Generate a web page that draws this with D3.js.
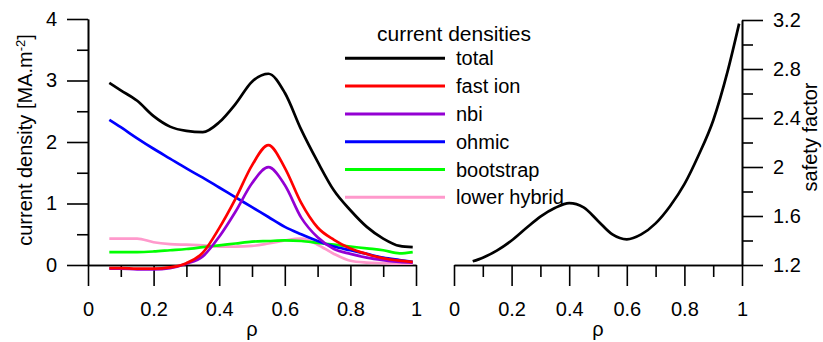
<!DOCTYPE html>
<html>
<head>
<meta charset="utf-8">
<script src="https://cdn.jsdelivr.net/npm/d3@7"></script>
<style>
  body { margin: 0; background: #fff; }
  svg { display: block; font-family: "Liberation Sans", Arial, sans-serif; }
  .axis path, .axis line { stroke: #000; stroke-width: 1.6px; }
  .axis text { font-size: 20px; fill: #000; }
</style>
</head>
<body>
<div id="chart"></div>
<script>
// radial grid shared by the left-panel profiles
const rho = [0.065, 0.1, 0.15, 0.2, 0.25, 0.3, 0.35, 0.4, 0.45, 0.5, 0.55, 0.6, 0.65, 0.7, 0.75, 0.8, 0.85, 0.9, 0.95, 0.99];

const total      = [2.96, 2.84, 2.67, 2.42, 2.25, 2.18, 2.16, 2.32, 2.62, 2.98, 3.11, 2.80, 2.20, 1.68, 1.21, 0.89, 0.62, 0.43, 0.31, 0.29];
const fastIon    = [-0.05, -0.05, -0.06, -0.06, -0.04, 0.03, 0.20, 0.60, 1.08, 1.62, 1.95, 1.58, 1.01, 0.61, 0.41, 0.27, 0.18, 0.11, 0.07, 0.05];
const nbi        = [-0.06, -0.06, -0.07, -0.07, -0.05, 0.02, 0.14, 0.46, 0.87, 1.33, 1.59, 1.30, 0.77, 0.45, 0.26, 0.18, 0.12, 0.08, 0.05, 0.04];
const ohmic      = [2.36, 2.24, 2.06, 1.89, 1.73, 1.57, 1.42, 1.26, 1.10, 0.94, 0.78, 0.62, 0.50, 0.39, 0.30, 0.24, 0.18, 0.12, 0.08, 0.05];
const bootstrap  = [0.21, 0.21, 0.21, 0.22, 0.24, 0.26, 0.29, 0.32, 0.35, 0.38, 0.39, 0.40, 0.39, 0.36, 0.33, 0.30, 0.27, 0.24, 0.19, 0.21];
const lowerHybrid = [0.43, 0.43, 0.43, 0.37, 0.34, 0.33, 0.32, 0.30, 0.30, 0.31, 0.35, 0.40, 0.43, 0.33, 0.18, 0.07, 0.04, 0.03, 0.02, 0.02];

const safetyFactor = [1.23, 1.26, 1.32, 1.40, 1.50, 1.595, 1.665, 1.705, 1.67, 1.56, 1.45, 1.41, 1.45, 1.54, 1.68, 1.86, 2.10, 2.38, 2.78, 3.17];

const seriesNames = ['total', 'fast ion', 'nbi', 'ohmic', 'bootstrap', 'lower hybrid'];
const seriesValues = [total, fastIon, nbi, ohmic, bootstrap, lowerHybrid];
const seriesColors = ['#000000', '#ff0000', '#9400d3', '#0000ff', '#00ff00', '#ff99cc'];

const xTicks = [0, 0.2, 0.4, 0.6, 0.8, 1];
const xMinorTicks = [0.1, 0.3, 0.5, 0.7, 0.9];
const jTicks = [0, 1, 2, 3, 4];
const jMinorTicks = [0.5, 1.5, 2.5, 3.5];
const qTicks = [1.2, 1.6, 2, 2.4, 2.8, 3.2];
const qMinorTicks = [1.4, 1.8, 2.2, 2.6, 3.0];

const svg = d3.select('#chart').append('svg')
    .attr('width', 823)
    .attr('height', 342);

// Left panel scales
const xL = d3.scaleLinear().domain([0, 1]).range([88, 416]);
const yL = d3.scaleLinear().domain([0, 4]).range([265, 19]);
// Right panel scales
const xR = d3.scaleLinear().domain([0, 1]).range([454, 742]);
const yR = d3.scaleLinear().domain([1.2, 3.2]).range([265, 20]);

const fmt = d => d3.format('~g')(d);

function drawAxis(g, axis) {
    g.attr('class', 'axis').call(axis);
    g.select('.domain').attr('fill', 'none');
    return g;
}

// left x axis
drawAxis(svg.append('g').attr('transform', `translate(0,${yL(0)})`),
    d3.axisBottom(xL).tickValues(xMinorTicks).tickSize(12).tickSizeOuter(0).tickFormat(''));
drawAxis(svg.append('g').attr('transform', `translate(0,${yL(0)})`),
    d3.axisBottom(xL).tickValues(xTicks).tickSize(21).tickSizeOuter(0).tickPadding(16).tickFormat(fmt));

// left y axis
drawAxis(svg.append('g').attr('transform', `translate(${xL(0)},0)`),
    d3.axisLeft(yL).tickValues(jMinorTicks).tickSize(11).tickSizeOuter(0).tickFormat(''));
drawAxis(svg.append('g').attr('transform', `translate(${xL(0)},0)`),
    d3.axisLeft(yL).tickValues(jTicks).tickSize(21).tickSizeOuter(0).tickPadding(10).tickFormat(fmt));

// right x axis
drawAxis(svg.append('g').attr('transform', `translate(0,${yR(1.2)})`),
    d3.axisBottom(xR).tickValues(xMinorTicks).tickSize(12).tickSizeOuter(0).tickFormat(''));
drawAxis(svg.append('g').attr('transform', `translate(0,${yR(1.2)})`),
    d3.axisBottom(xR).tickValues(xTicks).tickSize(21).tickSizeOuter(0).tickPadding(16).tickFormat(fmt));

// right y axis (safety factor)
drawAxis(svg.append('g').attr('transform', `translate(${xR(1)},0)`),
    d3.axisRight(yR).tickValues(qMinorTicks).tickSize(11).tickSizeOuter(0).tickFormat(''));
drawAxis(svg.append('g').attr('transform', `translate(${xR(1)},0)`),
    d3.axisRight(yR).tickValues(qTicks).tickSize(21).tickSizeOuter(0).tickPadding(10).tickFormat(fmt));

// axis titles
const yTitle = svg.append('text')
    .attr('transform', 'translate(32,140) rotate(-90)')
    .attr('text-anchor', 'middle')
    .style('font-size', '20px');
yTitle.append('tspan').text('current density [MA.m');
yTitle.append('tspan').attr('dy', -7).style('font-size', '13px').text('-2');
yTitle.append('tspan').attr('dy', 7).text(']');

svg.append('text')
    .attr('transform', 'translate(817,137) rotate(-90)')
    .attr('text-anchor', 'middle')
    .style('font-size', '20px')
    .text('safety factor');

svg.append('text')
    .attr('x', xL(0.5)).attr('y', 336)
    .attr('text-anchor', 'middle')
    .style('font-size', '20px')
    .text('ρ');
svg.append('text')
    .attr('x', xR(0.5)).attr('y', 336)
    .attr('text-anchor', 'middle')
    .style('font-size', '20px')
    .text('ρ');

// current density profiles
const lineL = d3.line()
    .x((d, i) => xL(rho[i]))
    .y(d => yL(d))
    .curve(d3.curveMonotoneX);

// draw in reverse so total sits on top
seriesValues.slice().reverse().forEach((vals, k) => {
    const i = seriesValues.length - 1 - k;
    svg.append('path')
        .datum(vals)
        .attr('d', lineL)
        .attr('fill', 'none')
        .attr('stroke', seriesColors[i])
        .attr('stroke-width', 2.7)
        .attr('stroke-linejoin', 'round');
});

// safety factor profile
const lineR = d3.line()
    .x((d, i) => xR(rho[i]))
    .y(d => yR(d))
    .curve(d3.curveMonotoneX);

svg.append('path')
    .datum(safetyFactor)
    .attr('d', lineR)
    .attr('fill', 'none')
    .attr('stroke', '#000')
    .attr('stroke-width', 2.7);

// legend
svg.append('text')
    .attr('x', 454).attr('y', 41)
    .attr('text-anchor', 'middle')
    .style('font-size', '21px')
    .text('current densities');

const legend = svg.append('g');
seriesNames.forEach((name, i) => {
    const ly = 58.3 + i * 27.8;
    legend.append('line')
        .attr('x1', 345).attr('x2', 445)
        .attr('y1', ly).attr('y2', ly)
        .attr('stroke', seriesColors[i])
        .attr('stroke-width', 3);
    legend.append('text')
        .attr('x', 456).attr('y', ly + 7)
        .style('font-size', '20px')
        .text(name);
});
</script>
</body>
</html>
